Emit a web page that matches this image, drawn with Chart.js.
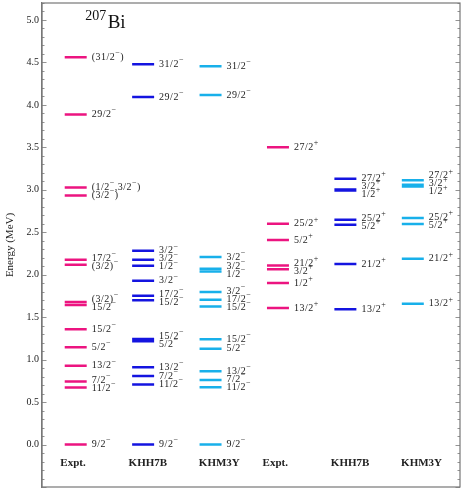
<!DOCTYPE html>
<html>
<head>
<meta charset="utf-8">
<script src="https://cdn.jsdelivr.net/npm/chart.js@4/dist/chart.umd.min.js"></script>
<style>
  html, body { margin: 0; padding: 0; background: #fff; }
  #wrap { width: 464px; height: 491px; }
</style>
</head>
<body>
<div id="wrap"><canvas id="levels"></canvas></div>
<script>
// column names (negative parity block, then positive parity block)
const columns = ['Expt.', 'KHH7B', 'KHM3Y', 'Expt.', 'KHH7B', 'KHM3Y'];
const colors = ['#ec1480', '#1414e0', '#18b0ea'];

// energies in MeV, spins ('^' marks the superscript parity)
const exptNegE = [0, 0.671, 0.741, 0.929, 1.145, 1.357, 1.643, 1.678, 2.118, 2.176, 2.933, 3.027, 3.886, 4.561];
const exptNegJ = ['9/2^-', '11/2^-', '7/2^-', '13/2^-', '5/2^-', '15/2^-', '15/2^-', '(3/2)^-', '(3/2)^-', '17/2^-', '(3/2^-)', '(1/2^-,3/2^-)', '29/2^-', '(31/2^-)'];

const khh7bNegE = [0, 0.706, 0.808, 0.910, 1.216, 1.243, 1.698, 1.753, 1.929, 2.106, 2.176, 2.282, 4.094, 4.479];
const khh7bNegJ = ['9/2^-', '11/2^-', '7/2^-', '13/2^-', '5/2^-', '15/2^-', '15/2^-', '17/2^-', '3/2^-', '1/2^-', '3/2^-', '3/2^-', '29/2^-', '31/2^-'];

const khm3yNegE = [0, 0.675, 0.761, 0.863, 1.129, 1.239, 1.627, 1.706, 1.796, 2.039, 2.071, 2.208, 4.118, 4.455];
const khm3yNegJ = ['9/2^-', '11/2^-', '7/2^-', '13/2^-', '5/2^-', '15/2^-', '15/2^-', '17/2^-', '3/2^-', '1/2^-', '3/2^-', '3/2^-', '29/2^-', '31/2^-'];

const exptPosE = [1.608, 1.902, 2.063, 2.110, 2.408, 2.600, 3.502];
const exptPosJ = ['13/2^+', '1/2^+', '3/2^+', '21/2^+', '5/2^+', '25/2^+', '27/2^+'];

const khh7bPosE = [1.592, 2.126, 2.588, 2.647, 2.992, 3.004, 3.129];
const khh7bPosJ = ['13/2^+', '21/2^+', '5/2^+', '25/2^+', '1/2^+', '3/2^+', '27/2^+'];

const khm3yPosE = [1.659, 2.188, 2.596, 2.667, 3.039, 3.059, 3.114];
const khm3yPosJ = ['13/2^+', '21/2^+', '5/2^+', '25/2^+', '1/2^+', '3/2^+', '27/2^+'];

const yTicks = [0, 0.5, 1.0, 1.5, 2.0, 2.5, 3.0, 3.5, 4.0, 4.5, 5.0];

const levelE = [exptNegE, khh7bNegE, khm3yNegE, exptPosE, khh7bPosE, khm3yPosE];
const levelJ = [exptNegJ, khh7bNegJ, khm3yNegJ, exptPosJ, khh7bPosJ, khm3yPosJ];

const HALF = 0.163; // half length of a level line, in column units
const SERIF = '"Liberation Serif", "DejaVu Serif", serif';

// one dataset per column, levels split by null points
const datasets = levelE.map((energies, col) => {
  const data = [];
  energies.forEach((e) => {
    data.push({x: col - HALF, y: e});
    data.push({x: col + HALF, y: e});
    data.push({x: col, y: null});
  });
  return {
    label: columns[col],
    data,
    showLine: true,
    spanGaps: false,
    borderColor: colors[col % 3],
    backgroundColor: colors[col % 3],
    borderWidth: 2.5,
    pointRadius: 0,
    pointHoverRadius: 0,
  };
});

// text with '^x' superscripts
const drawRich = (ctx, text, x, y, size) => {
  let cx = x;
  let i = 0;
  while (i < text.length) {
    if (text[i] === '^') {
      const ch = text[i + 1] === '-' ? '\u2212' : text[i + 1];
      ctx.font = (size * 0.8) + 'px ' + SERIF;
      ctx.fillText(ch, cx, y - size * 0.42);
      cx += ctx.measureText(ch).width;
      i += 2;
    } else {
      let j = i;
      while (j < text.length && text[j] !== '^') j++;
      const part = text.slice(i, j);
      ctx.font = size + 'px ' + SERIF;
      ctx.fillText(part, cx, y);
      cx += ctx.measureText(part).width;
      i = j;
    }
  }
};

const decor = {
  id: 'decor',
  afterDatasetsDraw(chart) {
    const {ctx, chartArea, scales} = chart;
    const xs = scales.x;
    const ys = scales.y;
    ctx.save();

    // frame and inward ticks
    ctx.strokeStyle = '#777';
    ctx.lineWidth = 1.2;
    ctx.strokeRect(chartArea.left, chartArea.top,
        chartArea.right - chartArea.left, chartArea.bottom - chartArea.top);
    ctx.lineWidth = 0.8;
    for (let k = -5; k <= 52; k++) {
      const v = k / 10;
      const py = Math.round(ys.getPixelForValue(v)) + 0.5;
      const len = k % 5 === 0 ? 4.5 : 2.5;
      ctx.beginPath();
      ctx.moveTo(chartArea.left, py);
      ctx.lineTo(chartArea.left + len, py);
      ctx.moveTo(chartArea.right, py);
      ctx.lineTo(chartArea.right - len, py);
      ctx.stroke();
    }

    // spin labels, pushed apart where they crowd
    ctx.fillStyle = '#222';
    ctx.textBaseline = 'middle';
    ctx.textAlign = 'left';
    ctx.letterSpacing = '0.5px';
    const gap = 8;
    levelE.forEach((energies, col) => {
      const items = energies.map((e, i) => ({y: ys.getPixelForValue(e), j: levelJ[col][i]}))
          .sort((a, b) => b.y - a.y);
      for (let it = 0; it < 60; it++) {
        for (let i = 1; i < items.length; i++) {
          const d = items[i - 1].y - items[i].y;
          if (d < gap) {
            const o = (gap - d) / 2;
            items[i - 1].y += o;
            items[i].y -= o;
          }
        }
      }
      const lx = xs.getPixelForValue(col + HALF) + 5;
      items.forEach((it) => drawRich(ctx, it.j, lx, it.y, 10));
    });
    ctx.letterSpacing = '0px';

    // column names under the levels
    ctx.font = 'bold 11px ' + SERIF;
    ctx.textAlign = 'center';
    ctx.textBaseline = 'alphabetic';
    const shift = [-0.04, 0.07, 0.13];
    columns.forEach((name, col) => {
      ctx.fillText(name, xs.getPixelForValue(col + shift[col % 3]), ys.getPixelForValue(-0.258));
    });

    // nucleus name
    ctx.textAlign = 'left';
    ctx.fillStyle = '#111';
    const tx = xs.getPixelForValue(0.14);
    const ty = ys.getPixelForValue(4.9);
    ctx.font = '14px ' + SERIF;
    ctx.fillText('207', tx, ty - 8);
    const w = ctx.measureText('207').width;
    ctx.font = '19px ' + SERIF;
    ctx.fillText('Bi', tx + w + 1.5, ty);

    ctx.restore();
  },
};

new Chart(document.getElementById('levels'), {
  type: 'scatter',
  data: {datasets},
  options: {
    responsive: true,
    maintainAspectRatio: false,
    animation: false,
    events: [],
    layout: {padding: {left: 2, right: 4, top: 3, bottom: 4}},
    plugins: {legend: {display: false}, tooltip: {enabled: false}},
    scales: {
      x: {
        type: 'linear',
        min: -0.5,
        max: 5.7,
        display: false,
      },
      y: {
        type: 'linear',
        min: -0.5,
        max: 5.2,
        afterFit: (scale) => {
          scale.width = 40;
          scale.paddingTop = 0;
          scale.paddingBottom = 0;
        },
        afterBuildTicks: (scale) => {
          scale.ticks = yTicks.map((v) => ({value: v}));
        },
        ticks: {
          padding: 3,
          color: '#222',
          font: {family: SERIF, size: 10},
          callback: (v) => Number(v).toFixed(1),
        },
        grid: {display: false, drawTicks: false},
        border: {display: true, color: '#777', width: 1.2},
        title: {
          display: true,
          text: 'Energy (MeV)',
          color: '#222',
          font: {family: SERIF, size: 11},
          padding: {top: 2, bottom: 6},
        },
      },
    },
  },
  plugins: [decor],
});
</script>
</body>
</html>
